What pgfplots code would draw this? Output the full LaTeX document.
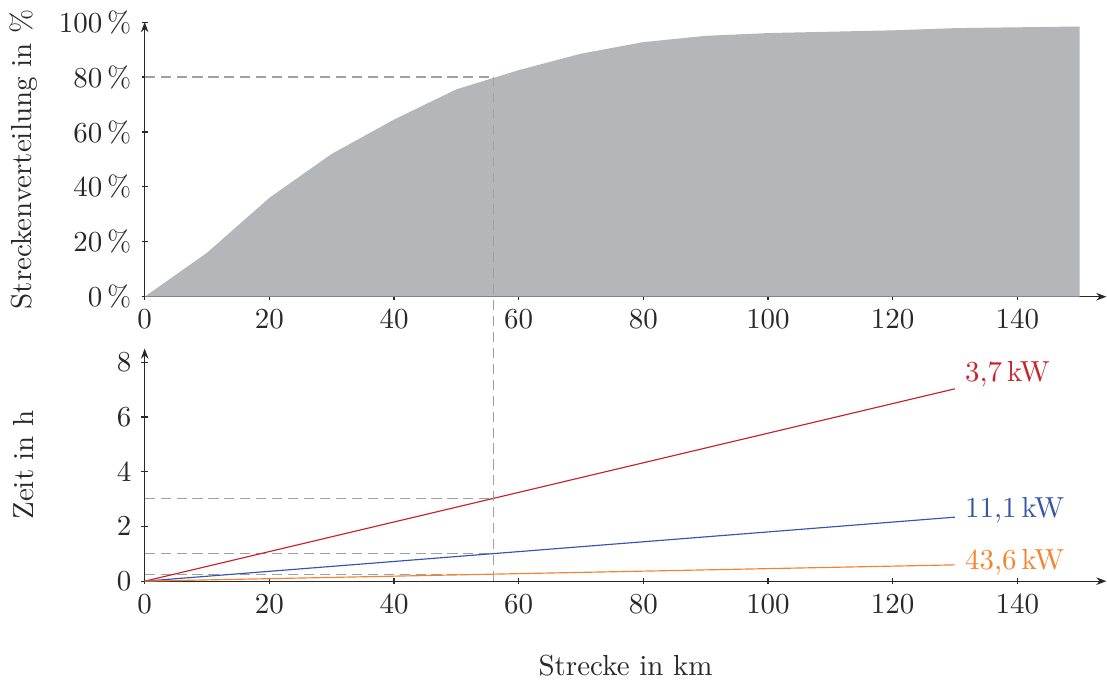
\documentclass[border=0pt]{standalone}
\usepackage{pgfplots}
\pgfplotsset{compat=1.18}
\usetikzlibrary{arrows.meta}
\definecolor{areagray}{RGB}{181,182,186}
\definecolor{dashgray}{RGB}{160,160,160}
\definecolor{cred}{RGB}{200,35,45}
\definecolor{cblue}{RGB}{55,85,170}
\definecolor{corange}{RGB}{245,130,45}
\definecolor{txt}{RGB}{40,40,40}
\begin{document}
\begin{tikzpicture}[every node/.style={text=txt}]
\pgfplotsset{
  every axis/.append style={
    scale only axis,
    width=332pt,
    axis lines=left,
    axis line style={txt,-{Stealth[length=3.5pt,width=2.6pt]}},
    tick style={txt, line width=0.4pt},
    tick align=center,
    major tick length=2.2pt,
    xmin=0, xmax=154.3,
    xtick={0,20,...,140},
    tick label style={text=txt},
    label style={text=txt},
    ylabel style={at={(axis description cs:-0.126,0.5)}, anchor=center},
  },
}
\begin{axis}[
  name=top,
  at={(0,0)}, anchor=south west,
  height=94.8pt,
  ymin=0, ymax=100,
  ytick={0,20,...,100},
  yticklabel={$\pgfmathprintnumber{\tick}\,\%$},
  ylabel={Streckenverteilung in \%},
]
\addplot[fill=areagray, draw=none] coordinates {
 (0,0) (10,16) (20,36) (30,52) (40,64.5) (50,75.5) (60,82.5) (70,88.5)
 (80,92.7) (90,95) (100,96) (120,97) (130,97.8) (150,98.4)
} \closedcycle;
\draw[dashgray, dash pattern=on 3.5pt off 2pt] (axis cs:0,80) -- (axis cs:56,80);
\coordinate (p80) at (axis cs:56,80);
\end{axis}
\begin{axis}[
  name=bottom,
  at={(0,-17.9pt)}, anchor=north west,
  height=80.3pt,
  ymin=0, ymax=8.5,
  ytick={0,2,...,8},
  ylabel={Zeit in h},
  xlabel={Strecke in km},
  xlabel style={at={(axis description cs:0.5,0)}, anchor=center, yshift=-29pt},
  clip=false,
]
\draw[dashgray, dash pattern=on 3.5pt off 2pt] (axis cs:0,3.03) -- (axis cs:56,3.03);
\draw[dashgray, dash pattern=on 3.5pt off 2pt] (axis cs:0,1.01) -- (axis cs:56,1.01);
\draw[dashgray, dash pattern=on 3.5pt off 2pt] (axis cs:0,0.257) -- (axis cs:56,0.257);
\addplot[cred, line width=0.4pt] coordinates {(0,0) (130,7.03)};
\addplot[cblue, line width=0.4pt] coordinates {(0,0) (130,2.34)};
\addplot[corange, line width=0.4pt] coordinates {(0,0) (130,0.596)};
\node[anchor=west, text=cred] at (axis cs:130,7.57) {3,7\,kW};
\node[anchor=west, text=cblue] at (axis cs:130,2.6) {11,1\,kW};
\node[anchor=west, text=corange] at (axis cs:130,0.70) {43,6\,kW};
\coordinate (p0) at (axis cs:56,0);
\end{axis}
\draw[dashgray, dash pattern=on 3.5pt off 2pt] (p80) -- (p0);
\end{tikzpicture}
\end{document}
